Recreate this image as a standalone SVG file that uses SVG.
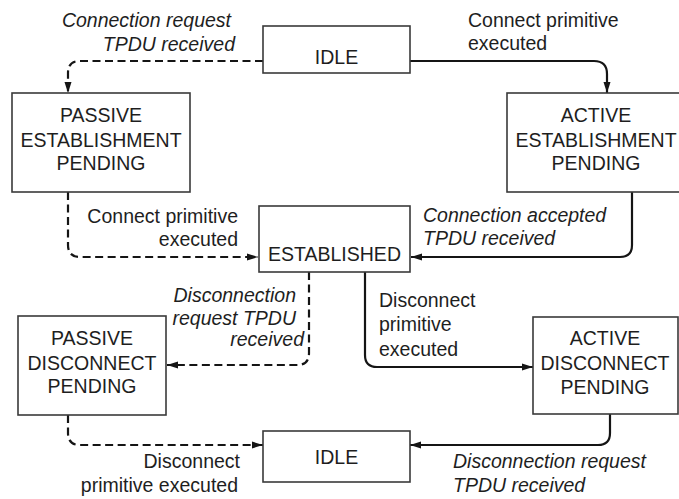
<svg xmlns="http://www.w3.org/2000/svg" width="679" height="499" viewBox="0 0 679 499">
<style>
.box{fill:#fff;stroke:#3a3a3a;stroke-width:1.6}
.t{font-family:"Liberation Sans",Arial,sans-serif;font-size:19.5px;fill:#1e1e1e}
.c{text-anchor:middle}
.e{text-anchor:end}
.i{font-style:italic}
.ln{fill:none;stroke:#151515;stroke-width:2.2}
.d{stroke-dasharray:8 4.5}
</style>
<defs>
<marker id="ah" markerUnits="userSpaceOnUse" markerWidth="12" markerHeight="10" refX="11" refY="5" orient="auto">
<path d="M0,1.5 L11,5 L0,8.5 z" fill="#151515"/>
</marker>
</defs>
<rect width="679" height="499" fill="#fff"/>
<g id="connectors">
<path class="ln d" d="M263,61 H80 Q68,61 68,73 V93" marker-end="url(#ah)"/>
<path class="ln" d="M410,61 H594 Q607,61 607,74 V93" marker-end="url(#ah)"/>
<path class="ln d" d="M68,192 V245 Q68,257 80,257 H258" marker-end="url(#ah)"/>
<path class="ln" d="M632,192 V245 Q632,257 620,257 H411" marker-end="url(#ah)"/>
<path class="ln d" d="M309,272 V353 Q309,365 297,365 H167" marker-end="url(#ah)"/>
<path class="ln" d="M365,272 V355 Q365,367 377,367 H533" marker-end="url(#ah)"/>
<path class="ln d" d="M68,415 V433 Q68,445 80,445 H263" marker-end="url(#ah)"/>
<path class="ln" d="M610,414 V433 Q610,445 598,445 H410" marker-end="url(#ah)"/>
</g>
<g id="idle-top">
<rect class="box" x="263" y="26" width="147" height="47"/>
<text class="t c" x="336.5" y="64">IDLE</text>
</g>
<g id="passive-establishment">
<rect class="box" x="12" y="93" width="178" height="99"/>
<text class="t c" x="101" y="122">PASSIVE</text>
<text class="t c" x="101" y="147">ESTABLISHMENT</text>
<text class="t c" x="101" y="170">PENDING</text>
</g>
<g id="active-establishment">
<rect class="box" x="507" y="93" width="175" height="99"/>
<text class="t c" x="596" y="122">ACTIVE</text>
<text class="t c" x="596" y="147">ESTABLISHMENT</text>
<text class="t c" x="596" y="170">PENDING</text>
</g>
<g id="established">
<rect class="box" x="259" y="206" width="151" height="66"/>
<text class="t c" x="334.5" y="261">ESTABLISHED</text>
</g>
<g id="passive-disconnect">
<rect class="box" x="18" y="316" width="148" height="99"/>
<text class="t c" x="92" y="345">PASSIVE</text>
<text class="t c" x="92" y="370">DISCONNECT</text>
<text class="t c" x="92" y="393">PENDING</text>
</g>
<g id="active-disconnect">
<rect class="box" x="533" y="317" width="145" height="97"/>
<text class="t c" x="605" y="345">ACTIVE</text>
<text class="t c" x="605" y="370">DISCONNECT</text>
<text class="t c" x="605" y="394">PENDING</text>
</g>
<g id="idle-bottom">
<rect class="box" x="263" y="431" width="147" height="51"/>
<text class="t c" x="336.5" y="464">IDLE</text>
</g>
<g id="labels">
<text class="t i e" x="231" y="27">Connection request</text>
<text class="t i e" x="235" y="51">TPDU received</text>
<text class="t" x="468" y="27">Connect primitive</text>
<text class="t" x="468" y="50">executed</text>
<text class="t e" x="238" y="223">Connect primitive</text>
<text class="t e" x="238" y="246">executed</text>
<text class="t i" x="423" y="222">Connection accepted</text>
<text class="t i" x="423" y="245">TPDU received</text>
<text class="t i e" x="296" y="302">Disconnection</text>
<text class="t i e" x="296" y="325">request TPDU</text>
<text class="t i e" x="304" y="346">received</text>
<text class="t" x="379" y="307">Disconnect</text>
<text class="t" x="379" y="331">primitive</text>
<text class="t" x="379" y="356">executed</text>
<text class="t e" x="240" y="468">Disconnect</text>
<text class="t e" x="238" y="492">primitive executed</text>
<text class="t i" x="453" y="468">Disconnection request</text>
<text class="t i" x="453" y="492">TPDU received</text>
</g>
</svg>
